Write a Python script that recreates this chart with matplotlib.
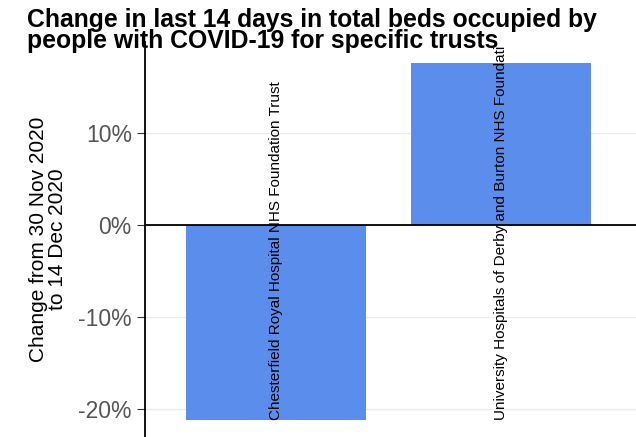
import matplotlib
matplotlib.use("Agg")
import matplotlib.pyplot as plt
from matplotlib.ticker import FuncFormatter

plt.rcParams['font.family'] = ['Liberation Sans', 'DejaVu Sans']

trusts = ["Chesterfield Royal Hospital NHS Foundation Trust",
          "University Hospitals of Derby and Burton NHS Foundati"]
change = [-21.2, 17.6]
yticks = [-20, -10, 0, 10]

fig = plt.figure(figsize=(6.36, 4.37), dpi=100)
ax = fig.add_axes([145 / 636, 0, 491 / 636, 395 / 437])

xpos = list(range(1, len(trusts) + 1))
ax.bar(xpos, change, width=0.8, color="#5B8DEC", zorder=2)
for x, name in zip(xpos, trusts):
    ax.text(x, min(change) + 0.05, name, rotation=90, ha="center", va="bottom",
            fontsize=11, color="black", zorder=3)

ax.axhline(0, color="black", lw=1.3, zorder=3)
ax.set_xlim(0.42, 2.60)
ax.set_ylim(-23.0, 19.9)
ax.set_yticks(yticks)
ax.yaxis.set_major_formatter(FuncFormatter(lambda v, p: f"{v:.0f}%"))
ax.set_xticks([])
ax.grid(axis="y", color="#ebebeb", lw=1, zorder=0)
for s in ["top", "right", "bottom"]:
    ax.spines[s].set_visible(False)
ax.spines["left"].set_linewidth(1.3)
ax.tick_params(axis="y", labelsize=16.5, labelcolor="#555555", color="#333333", length=6)
ax.set_ylabel("Change from 30 Nov 2020\nto 14 Dec 2020", fontsize=15, labelpad=8,
              linespacing=1.0)

fig.text(27 / 636, 1 - 8 / 437,
         "Change in last 14 days in total beds occupied by\npeople with COVID-19 for specific trusts",
         fontsize=17.8, fontweight="bold", ha="left", va="top", linespacing=0.85)

fig.savefig("out.png", dpi=100)
